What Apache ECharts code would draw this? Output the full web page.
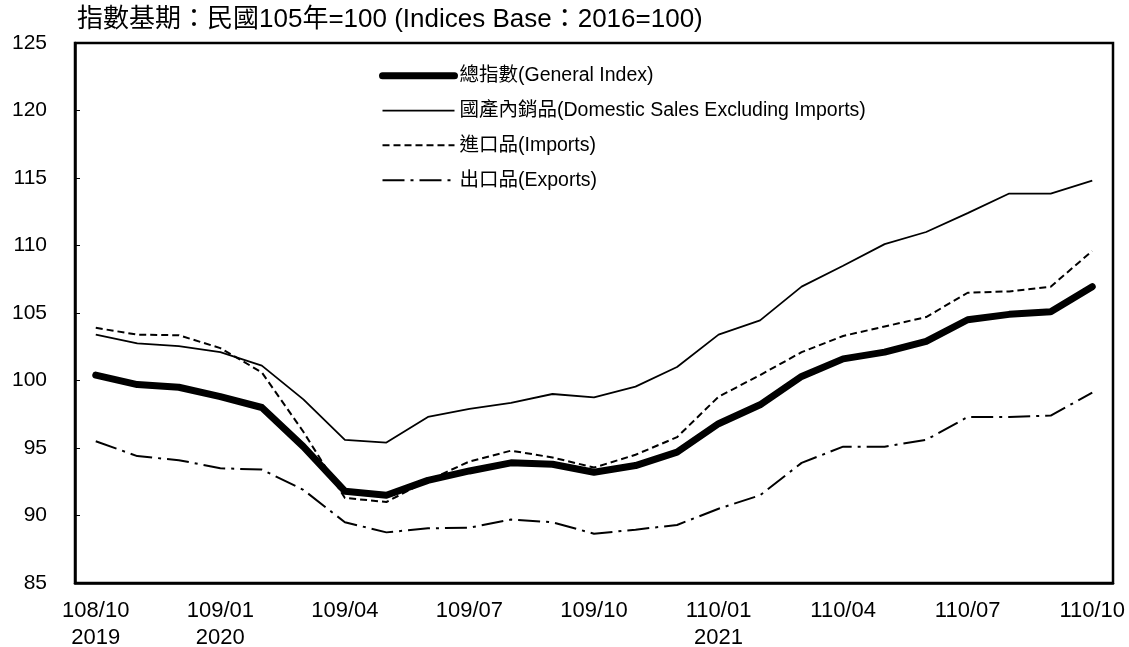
<!DOCTYPE html>
<html>
<head>
<meta charset="utf-8">
<script src="https://cdn.jsdelivr.net/npm/echarts@6/dist/echarts.min.js"></script>
<style>
  html, body { margin: 0; padding: 0; background: #fff; }
  #main { width: 1129px; height: 647px; }
</style>
</head>
<body>
<div id="main"></div>
<script>
// 月份(民國年/月)
var months = ['108/10','108/11','108/12','109/01','109/02','109/03','109/04','109/05','109/06',
  '109/07','109/08','109/09','109/10','109/11','109/12','110/01','110/02','110/03','110/04',
  '110/05','110/06','110/07','110/08','110/09','110/10'];
// 西元年註記
var yearNotes = { '108/10': '2019', '109/01': '2020', '110/01': '2021' };

// 各指數
var generalIndex = [100.4, 99.7, 99.5, 98.8, 98.0, 95.1, 91.8, 91.5, 92.6, 93.3, 93.9, 93.8, 93.2,
  93.7, 94.7, 96.8, 98.2, 100.3, 101.6, 102.1, 102.9, 104.5, 104.9, 105.1, 106.95];
var domesticSales = [103.4, 102.75, 102.55, 102.1, 101.1, 98.6, 95.6, 95.4, 97.3, 97.9, 98.35, 99.0, 98.75,
  99.55, 101.0, 103.4, 104.45, 106.95, 108.5, 110.1, 111.0, 112.4, 113.85, 113.85, 114.8];
var imports = [103.9, 103.4, 103.35, 102.4, 100.6, 96.2, 91.3, 91.0, 92.6, 94.0, 94.8, 94.3, 93.55,
  94.5, 95.8, 98.8, 100.4, 102.1, 103.3, 104.0, 104.7, 106.5, 106.6, 106.95, 109.6];
var exportsIdx = [95.5, 94.4, 94.1, 93.5, 93.4, 91.9, 89.5, 88.75, 89.05, 89.1, 89.7, 89.5, 88.65,
  88.95, 89.3, 90.5, 91.5, 93.9, 95.1, 95.1, 95.6, 97.3, 97.3, 97.4, 99.1];

var seriesNames = ['總指數(General Index)', '國產內銷品(Domestic Sales Excluding Imports)',
  '進口品(Imports)', '出口品(Exports)'];
var lineWidths = [7, 1.8, 2, 2];

var font = '"Liberation Sans", "Noto Sans CJK TC", sans-serif';

var chart = echarts.init(document.getElementById('main'));

var option = {
  backgroundColor: '#fff',
  animation: false,
  textStyle: { fontFamily: font, color: '#000' },
  title: {
    text: '指數基期：民國105年=100 (Indices Base：2016=100)',
    left: 72,
    top: 2,
    textStyle: { fontFamily: font, fontSize: 26, fontWeight: 'normal', color: '#000' }
  },
  // 圖例
  legend: {
    orient: 'vertical',
    left: 374,
    top: 61,
    itemWidth: 72,
    itemHeight: 14,
    itemGap: 15.3,
    itemStyle: { opacity: 0 },
    data: seriesNames.map(function (n, i) {
      return { name: n, lineStyle: { width: lineWidths[i] } };
    }),
    textStyle: { fontFamily: font, fontSize: 19.5, color: '#000' }
  },
  grid: {
    left: 75, right: 16, top: 43, bottom: 64,
    outerBoundsMode: 'none',
    show: true,
    borderColor: '#000',
    borderWidth: 2.5,
    backgroundColor: 'transparent'
  },
  xAxis: {
    type: 'category',
    data: months,
    boundaryGap: true,
    axisLine: { lineStyle: { color: '#000', width: 2.5 } },
    axisTick: { inside: true, length: 5, interval: 0, lineStyle: { color: '#000', width: 1 } },
    axisLabel: {
      interval: 2,
      margin: 14,
      fontSize: 22,
      lineHeight: 27,
      color: '#000',
      fontFamily: font,
      formatter: function (v) {
        return yearNotes[v] ? v + '\n' + yearNotes[v] : v;
      }
    },
    splitLine: { show: false }
  },
  yAxis: {
    type: 'value',
    min: 85,
    max: 125,
    interval: 5,
    axisLine: { show: true, lineStyle: { color: '#000', width: 2.5 } },
    axisTick: { show: true, inside: true, length: 5, lineStyle: { color: '#000', width: 1 } },
    axisLabel: { fontSize: 21, color: '#000', margin: 28, fontFamily: font },
    splitLine: { show: false }
  },
  series: [
    {
      name: seriesNames[0], type: 'line', data: generalIndex,
      symbol: 'none', z: 5,
      lineStyle: { color: '#000', width: lineWidths[0], cap: 'round', join: 'round' }
    },
    {
      name: seriesNames[1], type: 'line', data: domesticSales,
      symbol: 'none',
      lineStyle: { color: '#000', width: lineWidths[1] }
    },
    {
      name: seriesNames[2], type: 'line', data: imports,
      symbol: 'none',
      lineStyle: { color: '#000', width: lineWidths[2], type: [7, 4] }
    },
    {
      name: seriesNames[3], type: 'line', data: exportsIdx,
      symbol: 'none',
      lineStyle: { color: '#000', width: lineWidths[3], type: [22, 6, 3, 6] }
    }
  ]
};

chart.setOption(option);
</script>
</body>
</html>
